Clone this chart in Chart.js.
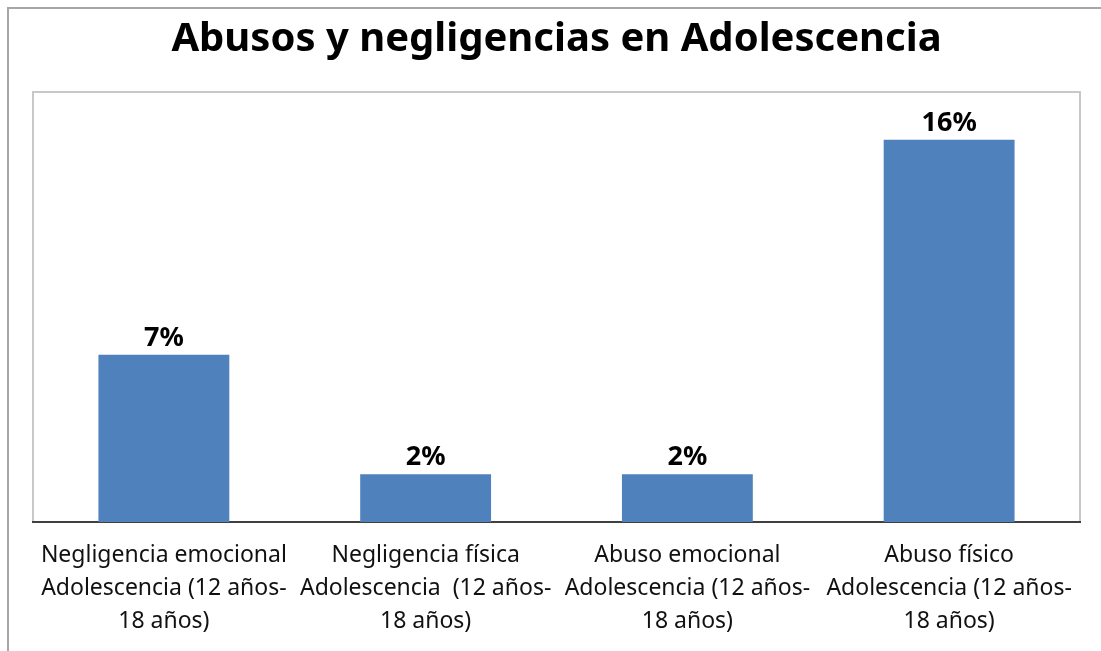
<!DOCTYPE html>
<html>
<head>
<meta charset="utf-8">
<script src="https://cdn.jsdelivr.net/npm/chart.js@4.4.0/dist/chart.umd.min.js"></script>
<style>
    html, body { margin: 0; padding: 0; background: #fff; }
    #wrap { position: relative; width: 1101px; height: 651px; }
</style>
</head>
<body>
<div id="wrap"><canvas id="barChart"></canvas></div>
<script>
    var categories = [
        ["Negligencia emocional", "Adolescencia (12 años-", "18 años)"],
        ["Negligencia física", "Adolescencia  (12 años-", "18 años)"],
        ["Abuso emocional", "Adolescencia (12 años-", "18 años)"],
        ["Abuso físico", "Adolescencia (12 años-", "18 años)"]
    ];
    var percentages = [7, 2, 2, 16];
    var chartTitle = "Abusos y negligencias en Adolescencia";

    var fontFamily = "'Noto Sans', 'Open Sans', sans-serif";

    // frame of the chart + plot border, and the % labels above each bar
    var framePlugin = {
        id: 'frame',
        beforeDraw: function (chart) {
            var c = chart.ctx, a = chart.chartArea;
            c.save();
            c.strokeStyle = "#A6A6A6";
            c.lineWidth = 2;
            c.beginPath();
            c.moveTo(8, chart.height);
            c.lineTo(8, 8);
            c.lineTo(chart.width, 8);
            c.stroke();
            c.strokeStyle = "#C8C8C8";
            c.lineWidth = 2;
            c.strokeRect(a.left, a.top, a.right - a.left, a.bottom - a.top);
            c.restore();
        },
        afterDatasetsDraw: function (chart) {
            var c = chart.ctx;
            var meta = chart.getDatasetMeta(0);
            c.save();
            c.font = "bold 27px " + fontFamily;
            c.fillStyle = "#000";
            c.textAlign = "center";
            c.textBaseline = "bottom";
            meta.data.forEach(function (bar, i) {
                c.fillText(percentages[i] + "%", bar.x, bar.y - 3);
            });
            c.restore();
        }
    };

    var ctx = document.getElementById("barChart");
    var myChart = new Chart(ctx, {
        type: 'bar',
        data: {
            labels: categories,
            datasets: [{
                data: percentages,
                backgroundColor: "#4F81BD",
                borderWidth: 0,
                barPercentage: 0.5,
                categoryPercentage: 1
            }]
        },
        plugins: [framePlugin],
        options: {
            responsive: true,
            maintainAspectRatio: false,
            animation: false,
            layout: { padding: { left: 33, right: 21, top: 0, bottom: 0 } },
            plugins: {
                legend: { display: false },
                tooltip: { enabled: false },
                title: {
                    display: true,
                    text: chartTitle,
                    color: "#000",
                    font: { family: fontFamily, size: 40, weight: 'bold', lineHeight: 1.2 },
                    padding: { top: 16, bottom: 28 }
                }
            },
            scales: {
                x: {
                    grid: { display: false },
                    border: { display: true, color: "#404040", width: 2 },
                    ticks: {
                        color: "#111",
                        maxRotation: 0,
                        autoSkip: false,
                        padding: 9,
                        font: { family: fontFamily, size: 23, lineHeight: 1.435 }
                    },
                    afterFit: function (scale) { scale.height = 129; }
                },
                y: {
                    display: false,
                    min: 0,
                    max: 18
                }
            }
        }
    });
</script>
</body>
</html>
